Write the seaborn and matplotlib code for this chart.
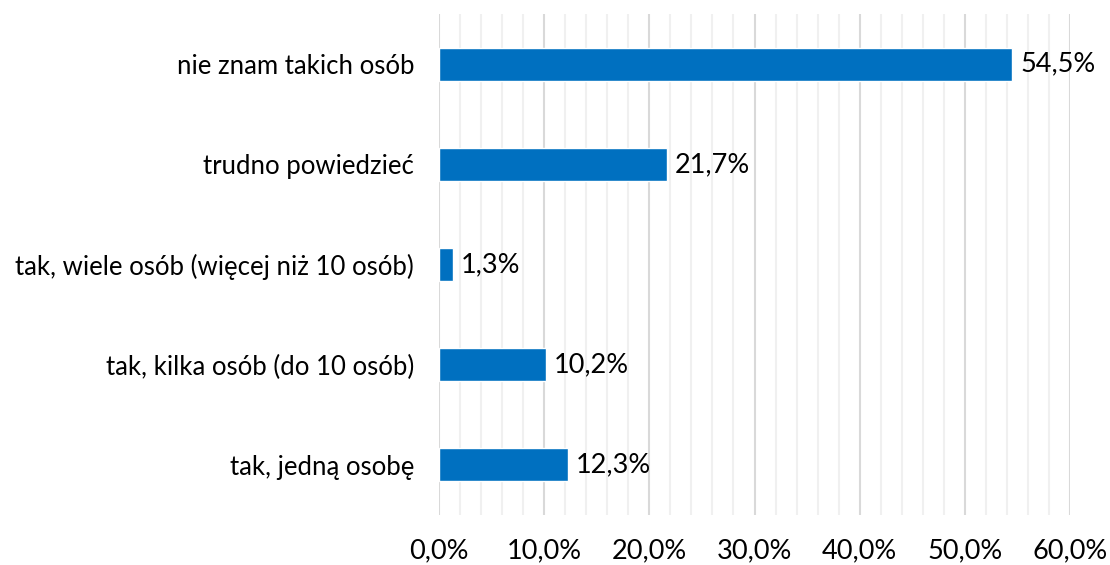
import matplotlib
matplotlib.use('Agg')
import matplotlib.pyplot as plt
import seaborn as sns
import pandas as pd
from matplotlib.ticker import MultipleLocator, FuncFormatter

# Dane
kategorie = ['nie znam takich osób', 'trudno powiedzieć',
             'tak, wiele osób (więcej niż 10 osób)',
             'tak, kilka osób (do 10 osób)', 'tak, jedną osobę']
wartosci = [54.5, 21.7, 1.3, 10.2, 12.3]

df = pd.DataFrame({'kategoria': kategorie, 'wartosc': wartosci})

sns.set_style('white')
plt.rcParams['font.family'] = ['Lato', 'DejaVu Sans']

fig = plt.figure(figsize=(11.1, 5.65), dpi=100)
ax = fig.add_axes([0.3955, 0.0885, 0.5685, 0.8865])

sns.barplot(data=df, y='kategoria', x='wartosc', color='#0070C0',
            width=0.33, saturation=1, ax=ax, zorder=3)

ax.set_xlim(0, 60)
ax.xaxis.set_major_locator(MultipleLocator(10))
ax.xaxis.set_minor_locator(MultipleLocator(2))
ax.xaxis.set_major_formatter(FuncFormatter(lambda v, p: f'{v:.1f}%'.replace('.', ',')))
ax.grid(True, which='major', axis='x', color='#d9d9d9', lw=1.5, zorder=0)
ax.grid(True, which='minor', axis='x', color='#f0f0f0', lw=1.5, zorder=0)
ax.set_axisbelow(True)

for s in ax.spines.values():
    s.set_visible(False)

ax.tick_params(axis='x', which='both', length=0, pad=17, labelsize=19.5, colors='black')
ax.tick_params(axis='y', length=0, pad=18, labelsize=18.5, colors='black')
ax.set_xlabel('')
ax.set_ylabel('')

for i, v in enumerate(wartosci):
    ax.text(v + 0.75, i, f'{v:.1f}%'.replace('.', ','), va='center', ha='left',
            fontsize=19.5, color='black')

plt.savefig('out.png', dpi=100)
